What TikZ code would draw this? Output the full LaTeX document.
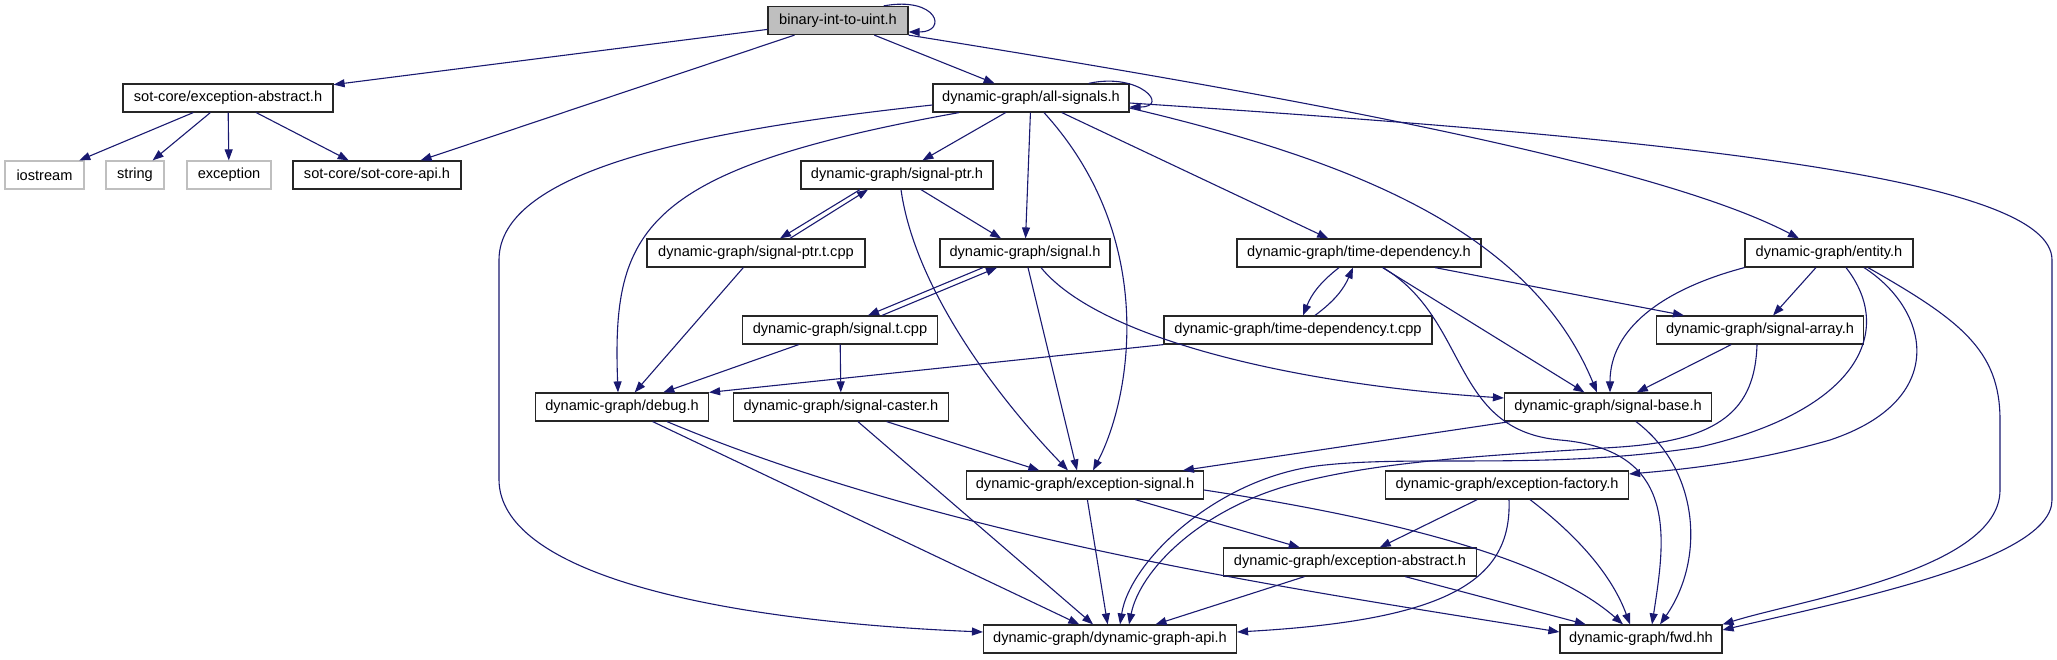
\documentclass[tikz,border=0pt]{standalone}
\usepackage{fontspec}
\setmainfont{Liberation Sans}
\usetikzlibrary{arrows.meta,positioning}

\definecolor{edgeblue}{RGB}{25,25,112}
\definecolor{sysgray}{RGB}{191,191,191}

\tikzset{
  hdr/.style={draw=black!85, line width=1.2pt, rectangle, minimum height=28pt,
    inner xsep=3pt, inner ysep=0pt, fill=white},
  sysfile/.style={hdr, draw=sysgray},
  rootfile/.style={hdr, fill=sysgray},
  dep/.style={draw=edgeblue, line width=1.1pt, -{Triangle[length=11pt,width=8pt]}}
}

\begin{document}
\begin{tikzpicture}[x=1pt, y=-1pt, font=\fontsize{14.6}{16}\selectfont]
\useasboundingbox (0,0) rectangle (2057,659);

% files
\node[rootfile, minimum width=140] (binary) at (838,20.5) {binary-int-to-uint.h};
\node[hdr, minimum width=210] (sotea) at (228,98) {sot-core/exception-abstract.h};
\node[hdr, minimum width=196] (allsig) at (1031,98) {dynamic-graph/all-signals.h};
\node[sysfile, minimum width=79] (iostream) at (44.5,175) {iostream};
\node[sysfile, minimum width=58] (string) at (135,175) {string};
\node[sysfile, minimum width=84] (exception) at (229,175) {exception};
\node[hdr, minimum width=168] (sotapi) at (377,175) {sot-core/sot-core-api.h};
\node[hdr, minimum width=192] (sigptr) at (897,175) {dynamic-graph/signal-ptr.h};
\node[hdr, minimum width=218] (sigptrt) at (756,253) {dynamic-graph/signal-ptr.t.cpp};
\node[hdr, minimum width=170] (signal) at (1025,253) {dynamic-graph/signal.h};
\node[hdr, minimum width=244] (timedep) at (1359,253) {dynamic-graph/time-dependency.h};
\node[hdr, minimum width=168] (entity) at (1829,253) {dynamic-graph/entity.h};
\node[hdr, minimum width=195] (signalt) at (840,330) {dynamic-graph/signal.t.cpp};
\node[hdr, minimum width=268] (timedept) at (1298,330) {dynamic-graph/time-dependency.t.cpp};
\node[hdr, minimum width=207] (sigarray) at (1760,330) {dynamic-graph/signal-array.h};
\node[hdr, minimum width=173] (debug) at (622,407) {dynamic-graph/debug.h};
\node[hdr, minimum width=215] (caster) at (841,407) {dynamic-graph/signal-caster.h};
\node[hdr, minimum width=207] (sigbase) at (1608,407) {dynamic-graph/signal-base.h};
\node[hdr, minimum width=237] (excsig) at (1085,485) {dynamic-graph/exception-signal.h};
\node[hdr, minimum width=243] (excfact) at (1507,485) {dynamic-graph/exception-factory.h};
\node[hdr, minimum width=253] (excabs) at (1350,562) {dynamic-graph/exception-abstract.h};
\node[hdr, minimum width=253] (api) at (1110,639) {dynamic-graph/dynamic-graph-api.h};
\node[hdr, minimum width=162] (fwd) at (1641,639) {dynamic-graph/fwd.hh};

% binary-int-to-uint.h
\draw[dep] ([xshift=-25pt]binary.north east) .. controls (938,-4) and (948,32) .. ([yshift=-11.5pt]binary.east);
\draw[dep] (binary) -- (sotea);
\draw[dep] (binary) -- (sotapi);
\draw[dep] (binary) -- (allsig);
\draw[dep] (binary.south east) .. controls (1250,90) and (1650,160) .. ([xshift=-30pt]entity.north);

% sot-core
\foreach \tgt in {iostream,string,exception,sotapi}
  \draw[dep] (sotea) -- (\tgt);

% all-signals.h
\draw[dep] ([xshift=-41pt]allsig.north east) .. controls (1140,72) and (1170,107) .. ([yshift=-9pt]allsig.east);
\draw[dep] ([xshift=-72pt]allsig.south) .. controls (640,170) and (612,230) .. ([xshift=-4pt]debug.north);
\draw[dep] ([yshift=-7pt]allsig.west) .. controls (700,130) and (499,170) .. (499,260) -- (499,480)
  .. controls (500,570) and (700,620) .. ([yshift=7pt]api.west);
\draw[dep] (allsig) -- (sigptr);
\draw[dep] (allsig) -- (signal);
\draw[dep] ([xshift=13pt]allsig.south) .. controls (1160,240) and (1130,400) .. ([xshift=8pt]excsig.north);
\draw[dep] (allsig) -- (timedep);
\draw[dep] ([yshift=-10pt]allsig.east) .. controls (1350,160) and (1530,230) .. ([xshift=-11pt]sigbase.north);
\draw[dep] ([yshift=-5pt]allsig.east) .. controls (1700,140) and (2052,180) .. (2052,260) -- (2052,500)
  .. controls (2052,560) and (1850,600) .. ([yshift=9pt]fwd.east);

% signal-ptr
\draw[dep] ([xshift=-37pt]sigptr.south) -- ([xshift=24pt]sigptrt.north);
\draw[dep] ([xshift=34pt]sigptrt.north) -- ([xshift=-29pt]sigptr.south);
\draw[dep] (sigptr) -- (signal);
\draw[dep] ([xshift=4pt]sigptr.south) .. controls (915,290) and (1000,400) .. ([xshift=-17pt]excsig.north);
\draw[dep] (sigptrt) -- (debug);

% signal
\draw[dep] ([xshift=-42pt]signal.south) -- ([xshift=28pt]signalt.north);
\draw[dep] ([xshift=42pt]signalt.north) -- ([xshift=-28pt]signal.south);
\draw[dep] ([xshift=3pt]signal.south) -- ([xshift=-8pt]excsig.north);
\draw[dep] ([xshift=16pt]signal.south) .. controls (1100,340) and (1300,385) .. ([yshift=9pt]sigbase.west);
\draw[dep] (signalt) -- (debug);
\draw[dep] (signalt) -- (caster);

% time-dependency
\draw[dep] ([xshift=-20pt]timedep.south) to[bend right=15] ([xshift=5pt]timedept.north);
\draw[dep] ([xshift=17pt]timedept.north) to[bend right=15] ([xshift=-6pt]timedep.south);
\draw[dep] (timedep) -- (sigarray);
\draw[dep] (timedep) -- (sigbase);
\draw[dep] ([xshift=24pt]timedep.south) .. controls (1470,320) and (1450,430) .. (1560,440)
  .. controls (1680,450) and (1665,540) .. ([xshift=11pt]fwd.north);
\draw[dep] (timedept.south west) -- (debug.north east);

% entity
\draw[dep] (entity) -- (sigarray);
\draw[dep] (entity.south west) .. controls (1660,290) and (1610,330) .. ([xshift=2pt]sigbase.north);
\draw[dep] ([xshift=17pt]entity.south) .. controls (1895,330) and (1860,410) .. (1700,447)
  .. controls (1550,470) and (1420,455) .. (1325,465)
  .. controls (1220,475) and (1130,560) .. ([xshift=10pt]api.north);
\draw[dep] ([xshift=35pt]entity.south) .. controls (1930,310) and (1950,400) .. (1830,440)
  .. controls (1760,460) and (1700,468) .. ([yshift=11pt]excfact.east);
\draw[dep] ([xshift=39pt]entity.south) .. controls (1960,320) and (2000,350) .. (2000,420) -- (2000,490)
  .. controls (2000,570) and (1800,600) .. (fwd.north east);

% signal-array
\draw[dep] (sigarray) -- (sigbase);
\draw[dep] ([xshift=-3pt]sigarray.south) .. controls (1755,410) and (1720,440) .. (1620,447)
  .. controls (1500,455) and (1380,460) .. (1290,485)
  .. controls (1200,510) and (1140,570) .. ([xshift=19pt]api.north);

% signal-base
\draw[dep] (sigbase) -- (excsig);
\draw[dep] ([xshift=28pt]sigbase.south) .. controls (1700,470) and (1705,560) .. ([xshift=19pt]fwd.north);

% debug, caster
\draw[dep] (debug) -- (api);
\draw[dep] ([xshift=45pt]debug.south) .. controls (950,540) and (1300,590) .. ([yshift=7pt]fwd.west);
\draw[dep] (caster) -- (excsig);
\draw[dep] (caster) -- (api);

% exceptions
\draw[dep] (excsig) -- (excabs);
\draw[dep] (excsig) -- (api);
\draw[dep] ([yshift=-5pt]excsig.east) .. controls (1400,520) and (1550,560) .. ([xshift=-18pt]fwd.north);
\draw[dep] (excfact) -- (excabs);
\draw[dep] ([xshift=2pt]excfact.south) .. controls (1512,580) and (1450,620) .. ([yshift=7pt]api.east);
\draw[dep] ([xshift=23pt]excfact.south) .. controls (1570,530) and (1610,570) .. ([xshift=-11pt]fwd.north);
\draw[dep] (excabs) -- (api);
\draw[dep] (excabs) -- (fwd);
\end{tikzpicture}
\end{document}
